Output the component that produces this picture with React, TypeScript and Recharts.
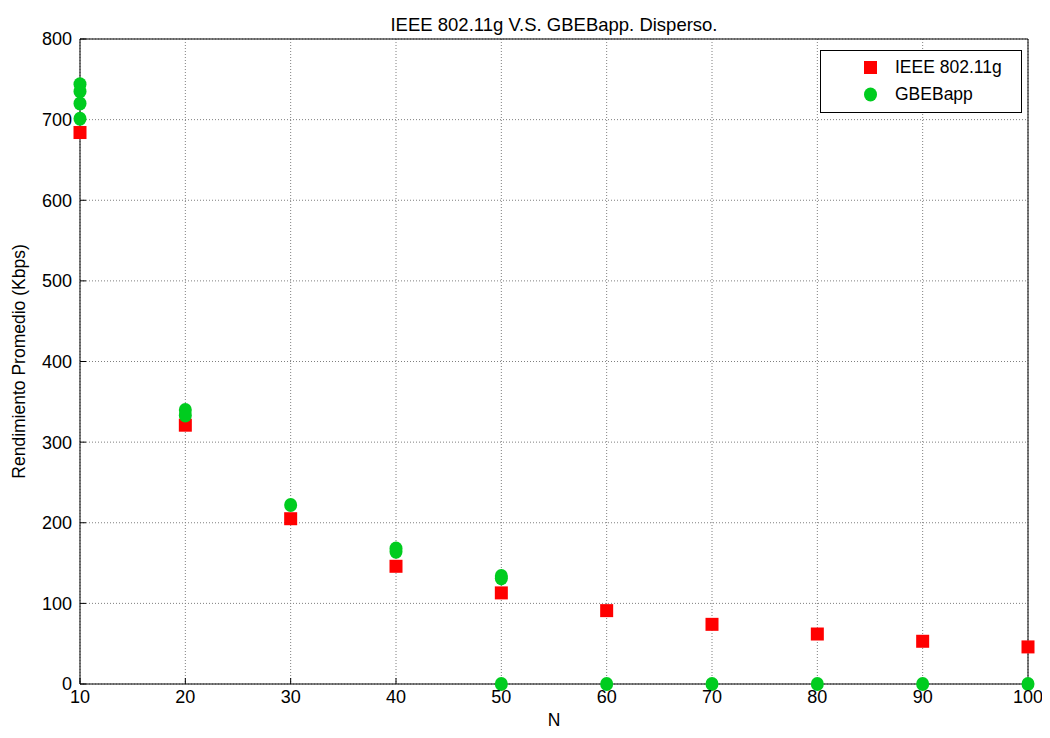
import { CartesianGrid, Scatter, ScatterChart, XAxis, YAxis } from 'recharts';

// IEEE 802.11g throughput per node count
const ieeeNodes = [10, 20, 30, 40, 50, 60, 70, 80, 90, 100];
const ieeeRate = [684, 321, 205, 146, 113, 91, 74, 62, 53, 46];

// GBEBapp throughput per run (several runs overlap at the same N)
const gbeNodes = [10, 10, 10, 10, 20, 20, 30, 40, 40, 50, 50, 50, 60, 70, 80, 90, 100];
const gbeRate = [744, 735, 720, 701, 340, 333, 222, 168, 164, 134, 131, 0, 0, 0, 0, 0, 0];

const xTicks = [10, 20, 30, 40, 50, 60, 70, 80, 90, 100];
const yTicks = [0, 100, 200, 300, 400, 500, 600, 700, 800];

const ieeeData = ieeeNodes.map((n, i) => ({ n, rate: ieeeRate[i] }));
const gbeData = gbeNodes.map((n, i) => ({ n, rate: gbeRate[i] }));

const FONT = '"Liberation Sans", Arial, sans-serif';
const RED = '#ff0000';
const GREEN = '#00cc1f';

const Square = (props: any) => {
  const { cx, cy } = props;
  if (cx == null || cy == null) return <g />;
  return <rect x={cx - 6.5} y={cy - 6.5} width={13} height={13} fill={RED} />;
};

const Dot = (props: any) => {
  const { cx, cy } = props;
  if (cx == null || cy == null) return <g />;
  return <ellipse cx={cx} cy={cy} rx={6.5} ry={7} fill={GREEN} />;
};

const blank = () => '';

export default function App() {
  return (
    <div style={{ position: 'relative', width: 1042, height: 730, fontFamily: FONT, background: '#fff' }}>
      <ScatterChart width={1042} height={730} margin={{ top: 30, right: 21, bottom: 14, left: 12 }}>
        <CartesianGrid stroke="#7f7f7f" strokeDasharray="1 2" />
        <XAxis
          type="number"
          dataKey="n"
          domain={[10, 100]}
          ticks={xTicks}
          height={40}
          stroke="#000"
          tickSize={-6}
          tickMargin={12}
          tick={{ fill: '#000', fontSize: 18, fontFamily: FONT }}
          label={(p: any) => (
            <text
              x={p.viewBox.x + p.viewBox.width / 2}
              y={p.viewBox.y + 37}
              textAnchor="middle"
              dominantBaseline="middle"
              fontSize={17.5}
              fontFamily={FONT}
              fill="#000"
            >
              N
            </text>
          )}
        />
        <XAxis
          xAxisId="top"
          orientation="top"
          type="number"
          dataKey="n"
          domain={[10, 100]}
          ticks={xTicks}
          height={1}
          stroke="#000"
          tickSize={-6}
          tickFormatter={blank}
          label={(p: any) => (
            <text
              x={p.viewBox.x + p.viewBox.width / 2}
              y={p.viewBox.y - 12}
              textAnchor="middle"
              dominantBaseline="middle"
              fontSize={18.5}
              fontFamily={FONT}
              fill="#000"
            >
              IEEE 802.11g V.S. GBEBapp. Disperso.
            </text>
          )}
        />
        <YAxis
          type="number"
          dataKey="rate"
          domain={[0, 800]}
          ticks={yTicks}
          width={60}
          stroke="#000"
          tickSize={-6}
          tickMargin={14}
          tick={{ fill: '#000', fontSize: 18, fontFamily: FONT }}
          label={(p: any) => (
            <text
              x={p.viewBox.x}
              y={p.viewBox.y + p.viewBox.height / 2}
              textAnchor="middle"
              dominantBaseline="middle"
              fontSize={17.5}
              fontFamily={FONT}
              fill="#000"
              transform={`rotate(-90 ${p.viewBox.x} ${p.viewBox.y + p.viewBox.height / 2})`}
            >
              Rendimiento Promedio (Kbps)
            </text>
          )}
        />
        <YAxis
          yAxisId="right"
          orientation="right"
          type="number"
          dataKey="rate"
          domain={[0, 800]}
          ticks={yTicks}
          width={1}
          stroke="#000"
          tickSize={-6}
          tickFormatter={blank}
        />
        <Scatter name="IEEE 802.11g" data={ieeeData} shape={Square} isAnimationActive={false} />
        <Scatter name="GBEBapp" data={gbeData} shape={Dot} isAnimationActive={false} />
      </ScatterChart>
      <div
        style={{
          position: 'absolute',
          left: 812,
          top: 42,
          width: 200,
          height: 61,
          border: '1px solid #000',
          background: '#fff',
          fontSize: 17.5,
          color: '#000',
        }}
      >
        {[
          { name: 'IEEE 802.11g', square: true },
          { name: 'GBEBapp', square: false },
        ].map((item, i) => (
          <div key={item.name} style={{ position: 'absolute', left: 0, top: 6 + i * 27, height: 20, display: 'flex', alignItems: 'center' }}>
            <svg width={80} height={20}>
              {item.square ? (
                <rect x={43} y={4} width={13} height={13} fill={RED} />
              ) : (
                <ellipse cx={49.5} cy={10.5} rx={6.5} ry={7} fill={GREEN} />
              )}
            </svg>
            <span style={{ marginLeft: -6 }}>{item.name}</span>
          </div>
        ))}
      </div>
    </div>
  );
}
